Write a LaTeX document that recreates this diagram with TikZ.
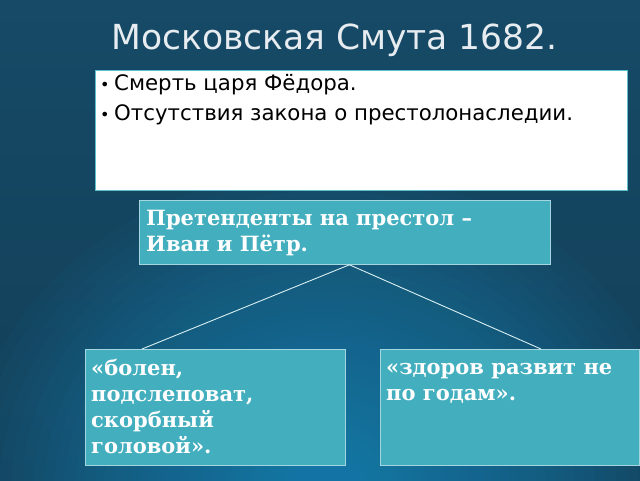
\documentclass[tikz,border=0pt]{standalone}
\usepackage{fontspec}
\setmainfont{DejaVu Serif}
\setsansfont{DejaVu Sans}
\usetikzlibrary{positioning}
\definecolor{bgtop}{HTML}{164A66}
\definecolor{bgdark}{HTML}{0E3247}
\definecolor{bgbottom}{HTML}{123F58}
\definecolor{bgglow}{HTML}{2A8ABB}
\definecolor{boxteal}{HTML}{43AEBE}
\definecolor{boxedge}{HTML}{A3D6DE}
\definecolor{listedge}{HTML}{5CC0CC}
\definecolor{titlegrey}{HTML}{E6ECF0}

\begin{document}
\begin{tikzpicture}[x=1pt,y=-1pt,
  list/.style = {draw=listedge, line width=1.2pt, fill=white, anchor=north west, inner sep=0pt},
  tealbox/.style = {draw=boxedge, line width=0.8pt, fill=boxteal, anchor=north west, inner sep=0pt},
  boxtext/.style = {anchor=north west, inner sep=0pt, align=left, text=white, font=\bfseries\fontsize{21}{26}\selectfont},
  listtext/.style = {anchor=north west, inner sep=0pt, align=left, font=\sffamily\fontsize{21.3}{30}\selectfont},
  branch/.style = {draw=white!80!boxteal, line width=0.9pt}]
	\useasboundingbox (0,0) rectangle (640,480);
	% background
	\shade[top color=bgtop, middle color=bgdark, bottom color=bgbottom] (0,0) rectangle (640,480);
	\begin{scope}
		\clip (0,0) rectangle (640,480);
		\foreach \i in {1,...,60}
			\fill[bgglow, opacity=0.045] (325,490) ellipse [x radius={(\i/60)^2*360pt}, y radius={(\i/60)^2*320pt}];
	\end{scope}
	\node[font=\sffamily\fontsize{34.5}{42}\selectfont, text=titlegrey, anchor=base] (title) at (334.5,49) {Московская Смута 1682.};
	% causes
	\node[list, minimum width=532pt, minimum height=120pt] (causes) at (95,70) {};
	\node[listtext] (causestext) at (100,69) {\strut\makebox[14pt][l]{\fontsize{16}{30}\selectfont•}Смерть царя Фёдора.\\\makebox[14pt][l]{\fontsize{16}{30}\selectfont•}Отсутствия закона о престолонаследии.};
	% pretenders
	\node[tealbox, minimum width=411pt, minimum height=64pt] (heirs) at (139,200) {};
	\node[boxtext] (heirstext) at (146,206.8) {\strut Претенденты на престол –\\Иван и Пётр.};
	\node[tealbox, minimum width=260pt, minimum height=116pt] (ivan) at (85,349) {};
	\node[boxtext] (ivantext) at (91,356.8) {\strut «болен,\\подслеповат,\\скорбный\\головой».};
	\node[tealbox, minimum width=259pt, minimum height=116pt] (peter) at (380,349) {};
	\node[boxtext] (petertext) at (386,355.8) {\strut «здоров развит не\\по годам».};
	% branches
	\coordinate (fork) at ([xshift=4.5pt]heirs.south);
	\coordinate (ivanend) at ([xshift=57pt]ivan.north west);
	\coordinate (peterend) at ([xshift=161pt]peter.north west);
	\draw[branch] (fork) -- (ivanend);
	\draw[branch] (fork) -- (peterend);
\end{tikzpicture}
\end{document}
